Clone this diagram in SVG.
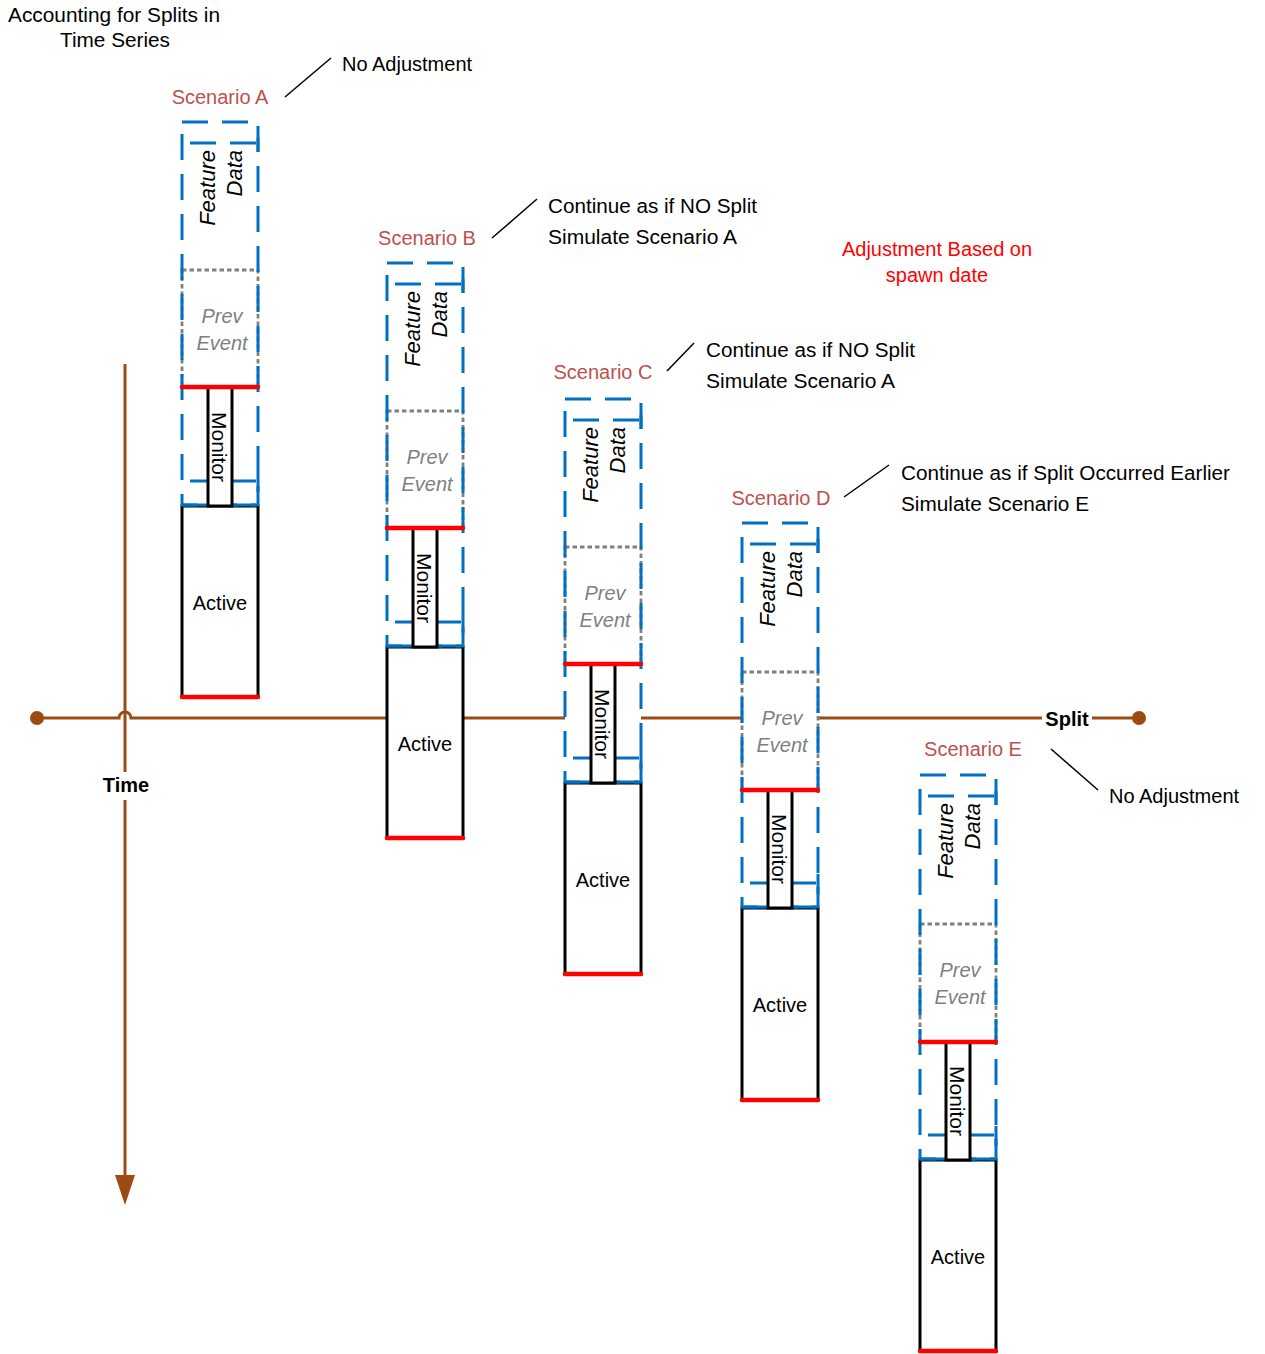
<svg xmlns="http://www.w3.org/2000/svg" width="1265" height="1354" viewBox="0 0 1265 1354">
  <style>
    text { font-family: "Liberation Sans", Arial, sans-serif; font-size: 20px; fill: #000; }
    .title { text-anchor: middle; }
    .scen { fill: #C0504D; text-anchor: middle; }
    .red-note { fill: #FF0000; text-anchor: middle; }
    .bold { font-weight: bold; text-anchor: middle; }
    .feat { font-style: italic; font-size: 22px; text-anchor: end; }
    .mon { font-size: 21px; text-anchor: middle; }
    .prev { font-style: italic; fill: #7F7F7F; text-anchor: middle; }
    .act { text-anchor: middle; }
    .bg { fill: #FFFFFF; stroke: none; }
    .box { fill: #FFFFFF; stroke: #000; stroke-width: 3; }
    .prevbox { fill: none; stroke: #808080; stroke-width: 2.8; stroke-dasharray: 4.5 3; }
    .blue { fill: none; stroke: #0070C0; stroke-width: 3; stroke-dasharray: 26 14; }
    .blue-solid { fill: none; stroke: #0070C0; stroke-width: 3; }
    .redl { stroke: #FF0000; stroke-width: 4.5; stroke-linecap: round; }
    .axis { fill: none; stroke: #9C4B12; stroke-width: 3; }
    .lead { stroke: #000; stroke-width: 1.5; }
  </style>

  <!-- title -->
  <g id="title">
    <text class="title" x="114" y="22" textLength="212" lengthAdjust="spacingAndGlyphs">Accounting for Splits in</text>
    <text class="title" x="115" y="47" textLength="110" lengthAdjust="spacingAndGlyphs">Time Series</text>
  </g>

  <!-- axes and leader lines -->
  <g id="connectors">
    <path class="axis" d="M37,718 H119 A6,6 0 0 1 131,718 H1139"/>
    <circle cx="37" cy="718" r="7" fill="#9C4B12"/>
    <circle cx="1139" cy="718" r="7" fill="#9C4B12"/>
    <line class="axis" x1="125" y1="364" x2="125" y2="1180"/>
    <polygon points="115,1175 135,1175 125,1205" fill="#9C4B12"/>
    <line class="lead" x1="285" y1="97" x2="331" y2="58"/>
    <line class="lead" x1="492" y1="238" x2="537" y2="199"/>
    <line class="lead" x1="667" y1="371" x2="694" y2="343"/>
    <line class="lead" x1="844" y1="497" x2="889" y2="465"/>
    <line class="lead" x1="1051" y1="749" x2="1098" y2="790"/>
  </g>

  <!-- axis labels -->
  <g id="time-label">
    <rect class="bg" x="100" y="772" width="52" height="28"/>
    <text class="bold" x="126" y="792">Time</text>
  </g>
  <g id="split-label">
    <rect class="bg" x="1042" y="706" width="50" height="25"/>
    <text class="bold" x="1067" y="726">Split</text>
  </g>

  <!-- Scenario A -->
  <g id="scenario-a" transform="translate(182,122)">
    <rect class="bg" x="0" y="0" width="76" height="383"/>
    <rect class="box" x="0" y="384" width="76" height="191"/>
    <rect class="prevbox" x="0" y="148" width="76" height="117"/>
    <rect class="blue" x="0" y="0" width="76" height="383"/>
    <path class="blue" d="M8,21 H76 M8,359 H76"/>
    <path class="blue-solid" d="M76,16 V30 M76,350 V370 M0,383 H74"/>
    <rect class="box" x="26" y="265" width="24" height="119"/>
    <line class="redl" x1="0" y1="265" x2="76" y2="265"/>
    <line class="redl" x1="0" y1="575" x2="76" y2="575"/>
    <text class="feat" transform="translate(33,28) rotate(-90)">Feature</text>
    <text class="feat" transform="translate(60,28) rotate(-90)">Data</text>
    <text class="mon" transform="translate(30,325) rotate(90)">Monitor</text>
    <text class="prev" x="40" y="201">Prev</text>
    <text class="prev" x="40" y="228">Event</text>
    <text class="act" x="38" y="488">Active</text>
    <text class="scen" x="38" y="-18">Scenario A</text>
  </g>

  <!-- Scenario B -->
  <g id="scenario-b" transform="translate(387,263)">
    <rect class="bg" x="0" y="0" width="76" height="383"/>
    <rect class="box" x="0" y="384" width="76" height="191"/>
    <rect class="prevbox" x="0" y="148" width="76" height="117"/>
    <rect class="blue" x="0" y="0" width="76" height="383"/>
    <path class="blue" d="M8,21 H76 M8,359 H76"/>
    <path class="blue-solid" d="M76,16 V30 M76,350 V370 M0,383 H74"/>
    <rect class="box" x="26" y="265" width="24" height="119"/>
    <line class="redl" x1="0" y1="265" x2="76" y2="265"/>
    <line class="redl" x1="0" y1="575" x2="76" y2="575"/>
    <text class="feat" transform="translate(33,28) rotate(-90)">Feature</text>
    <text class="feat" transform="translate(60,28) rotate(-90)">Data</text>
    <text class="mon" transform="translate(30,325) rotate(90)">Monitor</text>
    <text class="prev" x="40" y="201">Prev</text>
    <text class="prev" x="40" y="228">Event</text>
    <text class="act" x="38" y="488">Active</text>
    <text class="scen" x="40" y="-18">Scenario B</text>
  </g>

  <!-- Scenario C -->
  <g id="scenario-c" transform="translate(565,399)">
    <rect class="bg" x="0" y="0" width="76" height="383"/>
    <rect class="box" x="0" y="384" width="76" height="191"/>
    <rect class="prevbox" x="0" y="148" width="76" height="117"/>
    <rect class="blue" x="0" y="0" width="76" height="383"/>
    <path class="blue" d="M8,21 H76 M8,359 H76"/>
    <path class="blue-solid" d="M76,16 V30 M76,350 V370 M0,383 H74"/>
    <rect class="box" x="26" y="265" width="24" height="119"/>
    <line class="redl" x1="0" y1="265" x2="76" y2="265"/>
    <line class="redl" x1="0" y1="575" x2="76" y2="575"/>
    <text class="feat" transform="translate(33,28) rotate(-90)">Feature</text>
    <text class="feat" transform="translate(60,28) rotate(-90)">Data</text>
    <text class="mon" transform="translate(30,325) rotate(90)">Monitor</text>
    <text class="prev" x="40" y="201">Prev</text>
    <text class="prev" x="40" y="228">Event</text>
    <text class="act" x="38" y="488">Active</text>
    <text class="scen" x="38" y="-20">Scenario C</text>
  </g>

  <!-- Scenario D -->
  <g id="scenario-d" transform="translate(742,523)">
    <rect class="bg" x="0" y="0" width="76" height="383"/>
    <rect class="box" x="0" y="385" width="76" height="192"/>
    <rect class="prevbox" x="0" y="149" width="76" height="118"/>
    <rect class="blue" x="0" y="0" width="76" height="384"/>
    <path class="blue" d="M8,21 H76 M8,360 H76"/>
    <path class="blue-solid" d="M76,16 V30 M76,351 V371 M0,384 H74"/>
    <rect class="box" x="26" y="267" width="24" height="118"/>
    <line class="redl" x1="0" y1="267" x2="76" y2="267"/>
    <line class="redl" x1="0" y1="577" x2="76" y2="577"/>
    <text class="feat" transform="translate(33,28) rotate(-90)">Feature</text>
    <text class="feat" transform="translate(60,28) rotate(-90)">Data</text>
    <text class="mon" transform="translate(30,326) rotate(90)">Monitor</text>
    <text class="prev" x="40" y="202">Prev</text>
    <text class="prev" x="40" y="229">Event</text>
    <text class="act" x="38" y="489">Active</text>
    <text class="scen" x="39" y="-18">Scenario D</text>
  </g>

  <!-- Scenario E -->
  <g id="scenario-e" transform="translate(920,775)">
    <rect class="bg" x="0" y="0" width="76" height="383"/>
    <rect class="box" x="0" y="385" width="76" height="191"/>
    <rect class="prevbox" x="0" y="149" width="76" height="118"/>
    <rect class="blue" x="0" y="0" width="76" height="384"/>
    <path class="blue" d="M8,21 H76 M8,360 H76"/>
    <path class="blue-solid" d="M76,16 V30 M76,351 V371 M0,384 H74"/>
    <rect class="box" x="26" y="267" width="24" height="118"/>
    <line class="redl" x1="0" y1="267" x2="76" y2="267"/>
    <line class="redl" x1="0" y1="576" x2="76" y2="576"/>
    <text class="feat" transform="translate(33,28) rotate(-90)">Feature</text>
    <text class="feat" transform="translate(60,28) rotate(-90)">Data</text>
    <text class="mon" transform="translate(30,326) rotate(90)">Monitor</text>
    <text class="prev" x="40" y="202">Prev</text>
    <text class="prev" x="40" y="229">Event</text>
    <text class="act" x="38" y="489">Active</text>
    <text class="scen" x="53" y="-19">Scenario E</text>
  </g>

  <!-- annotations -->
  <g id="note-a">
    <text x="342" y="71">No Adjustment</text>
  </g>
  <g id="note-b">
    <text x="548" y="213" textLength="209" lengthAdjust="spacingAndGlyphs">Continue as if NO Split</text>
    <text x="548" y="244" textLength="189" lengthAdjust="spacingAndGlyphs">Simulate Scenario A</text>
  </g>
  <g id="note-c">
    <text x="706" y="357" textLength="209" lengthAdjust="spacingAndGlyphs">Continue as if NO Split</text>
    <text x="706" y="388" textLength="189" lengthAdjust="spacingAndGlyphs">Simulate Scenario A</text>
  </g>
  <g id="note-d">
    <text x="901" y="480" textLength="329" lengthAdjust="spacingAndGlyphs">Continue as if Split Occurred Earlier</text>
    <text x="901" y="511" textLength="188" lengthAdjust="spacingAndGlyphs">Simulate Scenario E</text>
  </g>
  <g id="note-e">
    <text x="1109" y="803">No Adjustment</text>
  </g>
  <g id="note-spawn">
    <text class="red-note" x="937" y="256">Adjustment Based on</text>
    <text class="red-note" x="937" y="282">spawn date</text>
  </g>
</svg>
